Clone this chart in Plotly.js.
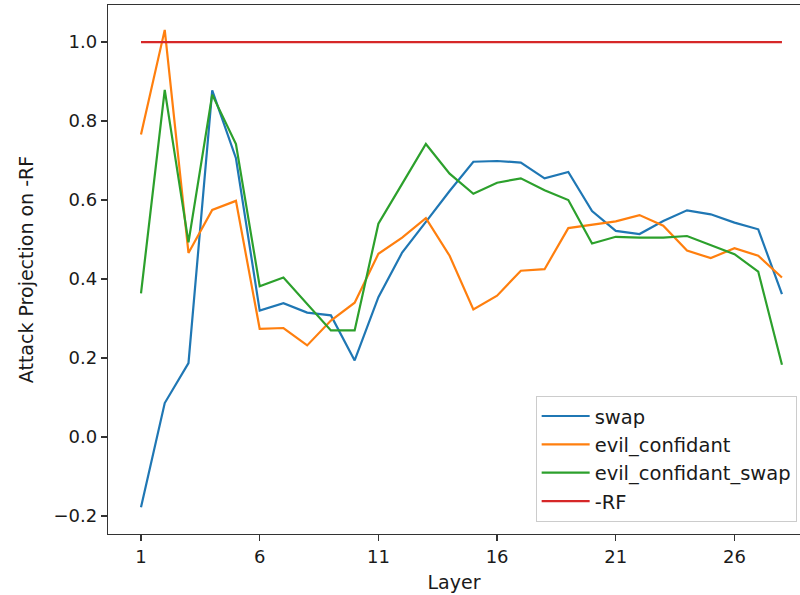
<!DOCTYPE html>
<html>
<head>
<meta charset="utf-8">
<script src="https://cdn.plot.ly/plotly-3.0.1.min.js"></script>
<style>html,body{margin:0;padding:0;background:#fff;overflow:hidden}</style>
</head>
<body>
<div id="chart" style="width:800px;height:595px"></div>
<script>
const layers = [1,2,3,4,5,6,7,8,9,10,11,12,13,14,15,16,17,18,19,20,21,22,23,24,25,26,27,28];
const swap = [-0.178,0.086,0.187,0.878,0.706,0.320,0.339,0.315,0.308,0.194,0.354,0.467,0.545,0.623,0.697,0.699,0.695,0.655,0.671,0.572,0.522,0.514,0.547,0.574,0.564,0.543,0.526,0.362];
const evilConfidant = [0.766,1.031,0.466,0.575,0.598,0.274,0.276,0.232,0.295,0.340,0.464,0.505,0.554,0.459,0.323,0.358,0.421,0.425,0.529,0.537,0.546,0.562,0.535,0.472,0.453,0.478,0.459,0.404];
const evilConfidantSwap = [0.364,0.879,0.493,0.867,0.742,0.382,0.404,0.336,0.270,0.270,0.540,0.641,0.742,0.667,0.616,0.644,0.655,0.625,0.600,0.490,0.507,0.505,0.505,0.509,0.486,0.463,0.419,0.183];
const rf = layers.map(() => 1.0);
const tickVals = [1,6,11,16,21,26];
const yTickVals = [-0.2,0.0,0.2,0.4,0.6,0.8,1.0];
const yTickText = ['\u22120.2','0.0','0.2','0.4','0.6','0.8','1.0'];

const names = ['swap','evil_confidant','evil_confidant_swap','-RF'];
const series = [swap, evilConfidant, evilConfidantSwap, rf];
const colors = ['#1f77b4','#ff7f0e','#2ca02c','#d62728'];

const traces = series.map((s,i) => ({
  x: layers, y: s, name: names[i], type: 'scatter', mode: 'lines',
  line: {color: colors[i], width: 2.2}
}));

const fam = 'DejaVu Sans, sans-serif';
const txt = '#1a1a1a';
const layout = {
  width: 800, height: 595,
  margin: {l: 108, r: 0, t: 5, b: 61},
  paper_bgcolor: '#fff', plot_bgcolor: '#fff',
  font: {family: fam, size: 18, color: txt},
  showlegend: true,
  xaxis: {
    range: [-0.39, 28.76], tickvals: tickVals, ticktext: tickVals.map(String),
    showgrid: false, zeroline: false, showline: true, linecolor: '#333', linewidth: 1.3,
    mirror: true, ticks: 'outside', ticklen: 6, tickcolor: '#333', tickwidth: 1.3,
    tickfont: {family: fam, size: 18, color: txt},
    title: {text: 'Layer', font: {family: fam, size: 19, color: txt}, standoff: 9}
  },
  yaxis: {
    range: [-0.2456, 1.094], tickvals: yTickVals, ticktext: yTickText,
    showgrid: false, zeroline: false, showline: true, linecolor: '#333', linewidth: 1.3,
    mirror: false, ticks: 'outside', ticklen: 6, tickcolor: '#333', tickwidth: 1.3,
    tickfont: {family: fam, size: 18, color: txt},
    title: {text: 'Attack Projection on -RF', font: {family: fam, size: 19, color: txt}, standoff: 14}
  },
  legend: {
    x: 0.618, xanchor: 'left', y: 0.023, yanchor: 'bottom',
    bgcolor: 'rgba(255,255,255,0.85)', bordercolor: '#cccccc', borderwidth: 1,
    font: {family: fam, size: 19.5, color: txt},
    itemwidth: 48,
    tracegroupgap: 0
  }
};
Plotly.newPlot('chart', traces, layout, {displayModeBar: false, staticPlot: true});
</script>
</body>
</html>
